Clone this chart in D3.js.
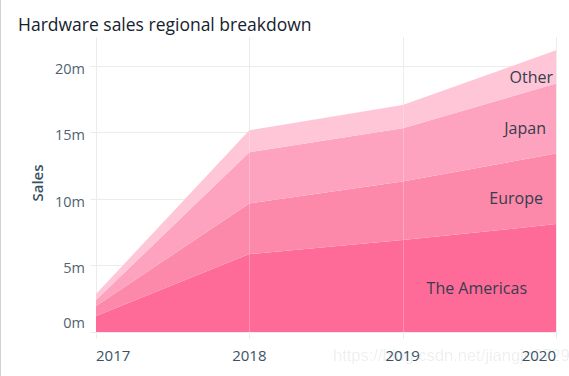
<!DOCTYPE html>
<html>
<head>
<meta charset="utf-8">
<script src="https://cdn.jsdelivr.net/npm/d3@7"></script>
<style>
  body { margin: 0; background: #fff; }
  svg { display: block; font-family: "Open Sans", sans-serif; }
</style>
</head>
<body>
<div id="chart"></div>
<script>
// Data (sales in millions)
const years = [2017, 2018, 2019, 2020];
const regions = ["The Americas", "Europe", "Japan", "Other"];
const americas = [1.2, 5.85, 6.9, 8.1];
const europe = [0.75, 3.8, 4.4, 5.3];
const japan = [0.45, 3.85, 4.0, 5.25];
const other = [0.45, 1.65, 1.75, 2.5];
const yTicks = [0, 5, 10, 15, 20];
const colors = ["#ff6b99", "#fc88aa", "#fea3bf", "#ffc6d7"];

const rows = years.map((y, i) => ({
    year: y,
    "The Americas": americas[i],
    "Europe": europe[i],
    "Japan": japan[i],
    "Other": other[i]
}));
const totals = years.map((y, i) => americas[i] + europe[i] + japan[i] + other[i]);

const W = 569, H = 376;
const svg = d3.select("#chart").append("svg")
    .attr("width", W)
    .attr("height", H);

// left border
svg.append("line")
    .attr("x1", 0.5).attr("x2", 0.5)
    .attr("y1", 0).attr("y2", H)
    .attr("stroke", "#d0d0d0");

const x = d3.scalePoint().domain(years).range([96, 556]);
const y = d3.scaleLinear().domain([0, 22.15]).range([332, 37]);

// Title
svg.append("text")
    .attr("x", 18)
    .attr("y", 31)
    .style("font-size", "17.5px")
    .attr("fill", "#16222c")
    .text("Hardware sales regional breakdown");

// Gridlines (under areas)
const grid = svg.append("g").attr("stroke", "#ececec").attr("shape-rendering", "crispEdges");
grid.selectAll(".hg").data(yTicks).enter().append("line")
    .attr("x1", 90).attr("x2", x(2020))
    .attr("y1", d => Math.round(y(d)) + 0.5)
    .attr("y2", d => Math.round(y(d)) + 0.5);
grid.selectAll(".vg").data(years).enter().append("line")
    .attr("x1", d => Math.round(x(d)) + 0.5)
    .attr("x2", d => Math.round(x(d)) + 0.5)
    .attr("y1", 37).attr("y2", 339);

// Stacked areas
const stack = d3.stack().keys(regions);
const series = stack(rows);

const area = d3.area()
    .x(d => x(d.data.year))
    .y0(d => y(d[0]))
    .y1(d => y(d[1]));

svg.append("g").selectAll("path")
    .data(series)
    .enter().append("path")
    .attr("d", area)
    .attr("fill", (d, i) => colors[i]);

// faint gridlines showing through the areas
svg.append("g").attr("stroke", "#ffffff").attr("stroke-opacity", 0.25)
    .attr("shape-rendering", "crispEdges")
    .selectAll("line").data(years.slice(1, 3)).enter().append("line")
    .attr("x1", d => Math.round(x(d)) + 0.5)
    .attr("x2", d => Math.round(x(d)) + 0.5)
    .attr("y1", d => y(totals[years.indexOf(d)]))
    .attr("y2", 332);

// Y axis labels
svg.append("g").selectAll("text")
    .data(yTicks).enter().append("text")
    .attr("x", 85)
    .attr("y", d => y(d))
    .attr("dy", d => d === 0 ? "-0.25em" : "0.55em")
    .attr("text-anchor", "end")
    .style("font-size", "14.5px")
    .attr("fill", "#4f6372")
    .text(d => d + "m");

svg.append("text")
    .attr("transform", "translate(43,183) rotate(-90)")
    .attr("text-anchor", "middle")
    .style("font-size", "15px")
    .style("font-weight", "600")
    .attr("fill", "#3b5264")
    .text("Sales");

// X axis labels
svg.append("g").selectAll("text")
    .data(years).enter().append("text")
    .attr("x", d => x(d))
    .attr("y", 361)
    .attr("text-anchor", (d, i) => i === 0 ? "start" : (i === years.length - 1 ? "end" : "middle"))
    .style("font-size", "15px")
    .attr("fill", "#3b5264")
    .text(d => d);

// Region labels at the right end
const labelDx = [29, 13, 10, 3];
svg.append("g").selectAll("text")
    .data(series).enter().append("text")
    .attr("x", (d, i) => x(2020) - labelDx[i])
    .attr("y", d => (y(d[3][0]) + y(d[3][1])) / 2 + 10)
    .attr("dy", "0.35em")
    .attr("text-anchor", "end")
    .style("font-size", "16px")
    .attr("fill", "#363d4c")
    .text(d => d.key);

// watermark
svg.append("text")
    .attr("x", 333)
    .attr("y", 361)
    .style("font-family", "'Liberation Sans', Arial, sans-serif")
    .style("font-size", "16.5px")
    .attr("fill", "#000")
    .attr("fill-opacity", 0.08)
    .text("https://blog.csdn.net/jiangjo0729");
</script>
</body>
</html>
